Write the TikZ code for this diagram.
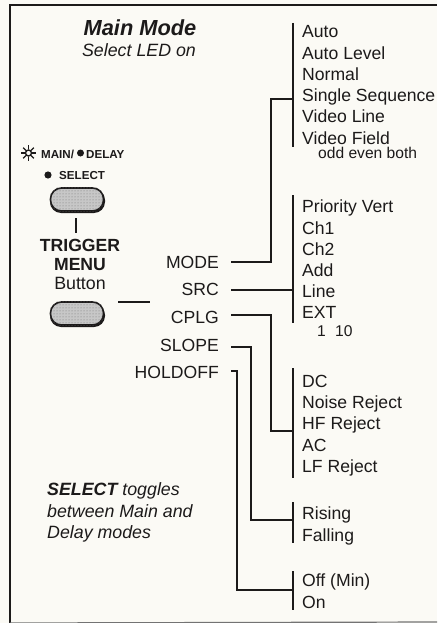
\documentclass[tikz,border=0pt]{standalone}
\usepackage{fontspec}
\setmainfont{Liberation Sans}
\usetikzlibrary{patterns}
\definecolor{paper}{HTML}{FBFAF5}
\definecolor{ink}{HTML}{1C1A1A}
\tikzset{
  lab/.style={anchor=base west,inner sep=0pt,yshift=-0.5pt,text=ink,font=\fontsize{17.6}{19}\selectfont},
  key/.style={anchor=base east,inner sep=0pt,text=ink,font=\fontsize{17.6}{19}\selectfont},
  sub/.style={anchor=base west,inner sep=0pt,text=ink,font=\fontsize{15.6}{17}\selectfont},
  ctr/.style={anchor=base,inner sep=0pt,text=ink,font=\fontsize{17.8}{19}\selectfont},
  note/.style={anchor=base west,inner sep=0pt,text=ink,font=\fontsize{17.8}{19}\selectfont\itshape},
  tiny/.style={anchor=base west,inner sep=0pt,text=ink,font=\fontsize{11.6}{13}\selectfont\bfseries},
  wire/.style={draw=ink,line width=1.5pt},
  frameline/.style={draw=ink,line width=1.4pt},
  btn/.style={rounded corners=11pt,minimum width=53pt,minimum height=23pt,inner sep=0pt,draw=ink,line width=1.6pt,fill=black!22},
}
\begin{document}
\begin{tikzpicture}[x=1pt,y=-1pt]
\useasboundingbox (0,0) rectangle (437,623);
\fill[paper] (0,0) rectangle (437,623);
% frame
\coordinate (fa) at (10,623);
\coordinate (fb) at (10,5);
\coordinate (fc) at (437,5);
\coordinate (fd) at (437,622);
\draw[frameline] (fa) -- (fb) -- (fc);
\draw[draw=black!55,line width=1.2pt] (fa) -- (fd);
% headings
\node[anchor=base,inner sep=0pt,text=ink,font=\fontsize{21.8}{24}\selectfont\bfseries\itshape] (title) at (140,36) {Main Mode};
\node[note,anchor=base] (ledon) at (139,57) {Select LED on};
% LED legend
\coordinate (sun) at (28.5,153);
\foreach \a in {0,45,...,315} \draw[ink,line width=1.4pt] (sun)++(\a:3.6) -- ++(\a:4);
\draw[ink,line width=1.4pt] (sun) circle (3);
\node[tiny] (mainl) at (41,158) {MAIN/};
\fill[ink] (80.5,153) circle (3.5);
\node[tiny] (delayl) at (86,158) {DELAY};
\fill[ink] (48,175) circle (3.6);
\node[tiny] (selectl) at (59,179) {SELECT};
% buttons
\fill[ink,rounded corners=11pt] (50,189) rectangle (105,213);
\node[btn] (b1) at (77,199.5) {};
\fill[pattern=dots,pattern color=black!55,rounded corners=10pt] (b1.south west) rectangle (b1.north east);
\fill[ink,rounded corners=11pt] (50,304) rectangle (105,327);
\node[btn] (b2) at (77,313.5) {};
\fill[pattern=dots,pattern color=black!55,rounded corners=10pt] (b2.south west) rectangle (b2.north east);
\node[ctr,font=\fontsize{17.6}{19}\selectfont\bfseries] (trig) at (80,251) {TRIGGER};
\node[ctr,font=\fontsize{17.6}{19}\selectfont\bfseries] (menu) at (80,270) {MENU};
\node[ctr] (btxt) at (80,289) {Button};
\coordinate (tickA) at (76,218);
\coordinate (tickB) at (76,233);
\draw[wire] (tickA) -- (tickB);
\coordinate (stubA) at (118,302);
\coordinate (stubB) at (150,302);
\draw[wire] (stubA) -- (stubB);
% keys
\node[key] (mode) at (219,268) {MODE};
\node[key] (src) at (219,295) {SRC};
\node[key] (cplg) at (219,323) {CPLG};
\node[key] (slope) at (219,351) {SLOPE};
\node[key] (hold) at (219,378) {HOLDOFF};
% option lists
\foreach \n/\y/\t in {a1/37/Auto,a2/59/Auto Level,a3/80/Normal,a4/101/Single Sequence,a5/122/Video Line,a6/144/Video Field,
  p1/212/Priority Vert,p2/234/Ch1,p3/255/Ch2,p4/276/Add,p5/297/Line,p6/318/EXT,
  d1/387/DC,d2/408/Noise Reject,d3/429/HF Reject,d4/451/AC,d5/472/LF Reject,
  r1/519/Rising,r2/541/Falling,o1/586/Off (Min),o2/608/On}
  \node[lab] (\n) at (302,\y) {\t};
\node[sub] (oeb) at (318,158) {odd even both};
\node[sub] (ext1) at (317,336) {1};
\node[sub] (ext10) at (335,336) {10};
% note
\node[note] (n1) at (47,495) {\textbf{SELECT} toggles};
\node[note] (n2) at (47,517) {between Main and};
\node[note] (n3) at (47,538) {Delay modes};
% buses
\coordinate (busAt) at (293,23); \coordinate (busAb) at (293,147);
\coordinate (busBt) at (293,195); \coordinate (busBb) at (293,323);
\coordinate (busCt) at (293,368); \coordinate (busCb) at (293,478);
\coordinate (busDt) at (293,502); \coordinate (busDb) at (293,543);
\coordinate (busEt) at (293,571); \coordinate (busEb) at (293,610);
\draw[wire] (busAt) -- (busAb);
\draw[wire] (busBt) -- (busBb);
\draw[wire] (busCt) -- (busCb);
\draw[wire] (busDt) -- (busDb);
\draw[wire] (busEt) -- (busEb);
% connectors
\coordinate (modeS) at (231,262); \coordinate (modeE) at (293,99);
\coordinate (srcS) at (231,290); \coordinate (srcE) at (293,290);
\coordinate (cplgS) at (231,315); \coordinate (cplgE) at (293,431);
\coordinate (slopeS) at (231,347); \coordinate (slopeE) at (293,520);
\coordinate (holdS) at (231,371); \coordinate (holdE) at (293,590);
\draw[wire] (modeS) -- ++(40,0) |- (modeE);
\draw[wire] (srcS) -- (srcE);
\draw[wire] (cplgS) -- ++(40,0) |- (cplgE);
\draw[wire] (slopeS) -- ++(20,0) |- (slopeE);
\draw[wire] (holdS) -- ++(6,0) |- (holdE);
\end{tikzpicture}
\end{document}
